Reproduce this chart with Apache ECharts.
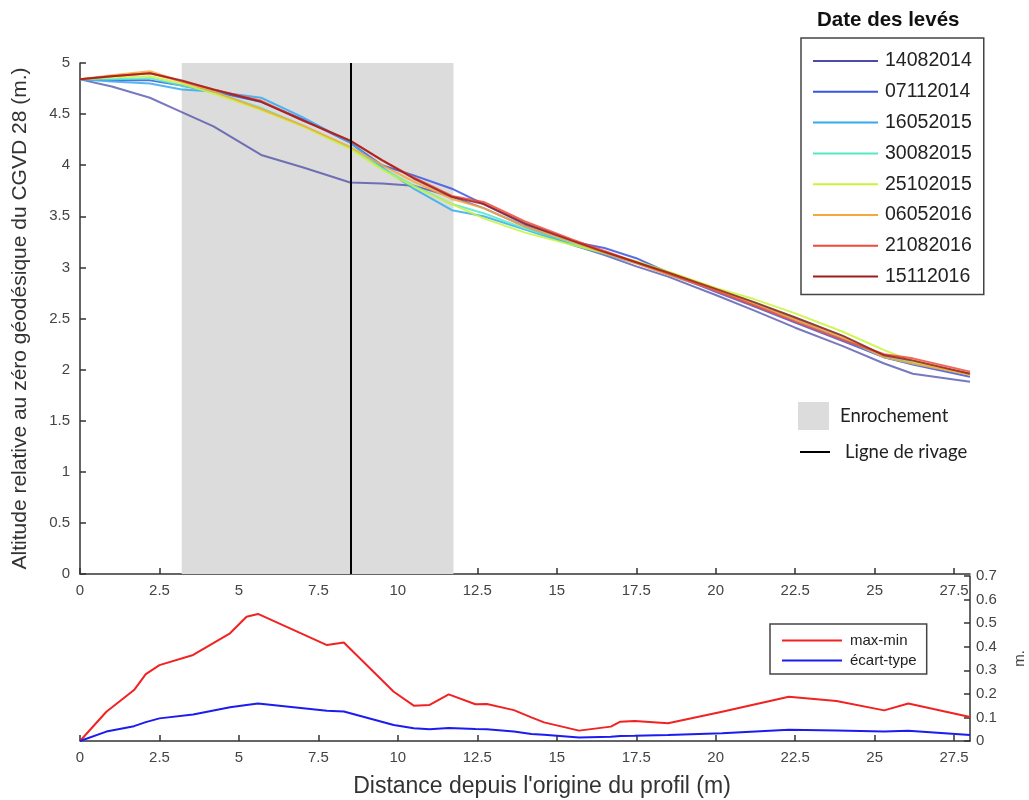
<!DOCTYPE html>
<html><head><meta charset="utf-8">
<script src="https://cdn.jsdelivr.net/npm/echarts@6/dist/echarts.min.js"></script>
<style>html,body{margin:0;padding:0;background:#fff}#c{width:1029px;height:800px}</style>
</head><body><div id="c"></div><script>
// ---------- DATA ----------
const distances = [0, 1, 2.2, 3.2, 4.2, 5.7, 7, 8.5, 9.5, 10.5, 11.7, 12.7, 14, 15.5, 16.5, 17.5, 18.5, 20, 21.2, 22.5, 24, 25.3, 26.2, 28];
const surveyNames = ['14082014', '07112014', '16052015', '30082015', '25102015', '06052016', '21082016', '15112016'];
const s14082014 = [4.84, 4.77, 4.66, 4.52, 4.38, 4.10, 3.98, 3.83, 3.82, 3.80, 3.69, 3.58, 3.40, 3.22, 3.12, 3.01, 2.91, 2.73, 2.58, 2.41, 2.23, 2.06, 1.96, 1.88];
const s07112014 = [4.84, 4.83, 4.83, 4.78, 4.72, 4.62, 4.45, 4.22, 4.00, 3.90, 3.77, 3.62, 3.42, 3.25, 3.19, 3.09, 2.95, 2.76, 2.62, 2.46, 2.28, 2.12, 2.05, 1.93];
const s16052015 = [4.84, 4.82, 4.80, 4.74, 4.72, 4.66, 4.47, 4.22, 3.98, 3.77, 3.56, 3.50, 3.37, 3.22, 3.13, 3.04, 2.93, 2.77, 2.64, 2.49, 2.30, 2.12, 2.06, 1.96];
const s30082015 = [4.84, 4.84, 4.85, 4.78, 4.72, 4.56, 4.39, 4.17, 3.97, 3.80, 3.62, 3.53, 3.38, 3.24, 3.14, 3.05, 2.95, 2.79, 2.66, 2.51, 2.33, 2.14, 2.07, 1.96];
const s25102015 = [4.84, 4.86, 4.87, 4.80, 4.70, 4.54, 4.38, 4.16, 3.96, 3.79, 3.62, 3.48, 3.34, 3.22, 3.14, 3.06, 2.96, 2.80, 2.69, 2.55, 2.37, 2.19, 2.08, 1.95];
const s06052016 = [4.84, 4.88, 4.92, 4.82, 4.72, 4.55, 4.39, 4.18, 4.00, 3.84, 3.67, 3.58, 3.40, 3.25, 3.14, 3.04, 2.93, 2.78, 2.64, 2.49, 2.31, 2.12, 2.06, 1.95];
const s21082016 = [4.84, 4.87, 4.90, 4.82, 4.74, 4.63, 4.44, 4.24, 4.05, 3.88, 3.70, 3.64, 3.45, 3.27, 3.16, 3.05, 2.94, 2.77, 2.63, 2.47, 2.29, 2.15, 2.11, 1.98];
const s15112016 = [4.84, 4.87, 4.90, 4.83, 4.74, 4.62, 4.44, 4.24, 4.05, 3.87, 3.69, 3.62, 3.43, 3.26, 3.15, 3.05, 2.95, 2.79, 2.66, 2.51, 2.33, 2.14, 2.09, 1.96];
const surveyValues = [s14082014, s07112014, s16052015, s30082015, s25102015, s06052016, s21082016, s15112016];

const statDistances = [0, 0.83, 1.7, 2.07, 2.5, 3.56, 4.72, 5.24, 5.6, 7.77, 8.3, 9.87, 10.5, 11.0, 11.6, 12.44, 12.8, 13.65, 14.2, 14.6, 15.7, 16.7, 17.0, 17.45, 18.5, 20.2, 22.3, 23.8, 25.3, 26.06, 28];
const maxMin = [0, 0.124, 0.216, 0.284, 0.322, 0.365, 0.457, 0.527, 0.539, 0.407, 0.418, 0.209, 0.150, 0.153, 0.198, 0.156, 0.157, 0.131, 0.100, 0.079, 0.044, 0.061, 0.082, 0.085, 0.075, 0.124, 0.188, 0.170, 0.130, 0.159, 0.102];
const ecartType = [0, 0.040, 0.063, 0.080, 0.096, 0.112, 0.143, 0.153, 0.159, 0.128, 0.125, 0.068, 0.054, 0.050, 0.055, 0.051, 0.050, 0.040, 0.030, 0.026, 0.015, 0.018, 0.021, 0.022, 0.025, 0.033, 0.048, 0.045, 0.040, 0.043, 0.025];

const xTicks = [0, 2.5, 5, 7.5, 10, 12.5, 15, 17.5, 20, 22.5, 25, 27.5];
const enrochement = [3.2, 11.75];
const ligneRivage = 8.52;

// ---------- STYLE ----------
const colors = ['#4b4ba8', '#3a55e0', '#35aaf0', '#55e8c8', '#c8f53a', '#f8a838', '#f04a3a', '#a01c1c'];
const FONT = 'Liberation Sans, Arial, sans-serif';
const axisCol = '#333';
const labelCol = '#444';

const chart = echarts.init(document.getElementById('c'), null, {renderer: 'canvas'});

const surveySeries = surveyNames.map((n, i) => ({
  name: n, type: 'line', xAxisIndex: 0, yAxisIndex: 0,
  data: distances.map((d, j) => [d, surveyValues[i][j]]),
  symbol: 'none', z: 3,
  lineStyle: {color: colors[i], width: 2, opacity: i === 0 ? 0.75 : 0.85},
  itemStyle: {color: colors[i]}
}));

const xAxisBase = (grid) => ({
  gridIndex: grid, type: 'value', min: 0, max: 28, interval: 2.5,
  axisLine: {show: true, onZero: false, lineStyle: {color: axisCol, width: 1.5}},
  axisTick: {show: true, inside: true, length: 6, customValues: xTicks, lineStyle: {color: axisCol, width: 1.5}},
  axisLabel: {customValues: xTicks, margin: 9, fontSize: 15, color: labelCol, fontFamily: FONT},
  splitLine: {show: false}
});

const option = {
  animation: false,
  backgroundColor: '#fff',
  grid: [
    {left: 80, top: 63, width: 890, height: 511, containLabel: false, outerBoundsMode: 'none'},
    {left: 80, top: 576, width: 890, height: 165, containLabel: false, outerBoundsMode: 'none'}
  ],
  xAxis: [
    xAxisBase(0),
    Object.assign(xAxisBase(1), {
      name: "Distance depuis l'origine du profil (m)", nameLocation: 'middle', nameGap: 34,
      nameTextStyle: {fontSize: 23, color: '#333', fontFamily: FONT, padding: [0, 0, 0, 34]}
    })
  ],
  yAxis: [
    {
      gridIndex: 0, type: 'value', min: 0, max: 5, interval: 0.5,
      name: 'Altitude relative au zéro géodésique du CGVD 28 (m.)', nameLocation: 'middle', nameGap: 49, nameRotate: 90,
      nameTextStyle: {fontSize: 21, color: '#333', fontFamily: FONT},
      axisLine: {show: true, onZero: false, lineStyle: {color: axisCol, width: 1.5}},
      axisTick: {show: true, inside: true, length: 6, lineStyle: {color: axisCol, width: 1.5}},
      axisLabel: {margin: 10, fontSize: 15, color: labelCol, fontFamily: FONT},
      splitLine: {show: false}
    },
    {
      gridIndex: 1, type: 'value', position: 'right', min: 0, max: 0.7, interval: 0.1,
      name: 'm.', nameLocation: 'middle', nameGap: 42, nameRotate: 90,
      nameTextStyle: {fontSize: 15, color: '#444', fontFamily: FONT},
      axisLine: {show: true, onZero: false, lineStyle: {color: axisCol, width: 1.5}},
      axisTick: {show: true, inside: true, length: 6, lineStyle: {color: axisCol, width: 1.5}},
      axisLabel: {margin: 6, fontSize: 15, color: labelCol, fontFamily: FONT},
      splitLine: {show: false}
    }
  ],
  legend: [
    {
      data: surveyNames, orient: 'vertical', left: 801, top: 38, icon: 'rect',
      padding: [13, 12, 8, 12], itemWidth: 65, itemHeight: 2, itemGap: 10.8,
      textStyle: {fontSize: 19.5, color: '#222', fontFamily: FONT, lineHeight: 18, padding: [0, 0, 0, 2]},
      borderColor: '#444', borderWidth: 1.5, backgroundColor: '#fff', selectedMode: false
    },
    {
      data: ['max-min', 'écart-type'], orient: 'vertical', left: 770, top: 624, icon: 'rect',
      padding: [9, 10, 6, 12], itemWidth: 60, itemHeight: 2, itemGap: 5,
      textStyle: {fontSize: 15, color: '#222', fontFamily: FONT, lineHeight: 15, padding: [0, 0, 0, 3]},
      borderColor: '#444', borderWidth: 1.5, backgroundColor: '#fff', selectedMode: false
    }
  ],
  graphic: [
    {type: 'text', left: 817, top: 10, style: {text: 'Date des levés', font: 'bold 20.5px ' + FONT, fill: '#111'}},
    {type: 'rect', shape: {x: 798, y: 402, width: 31, height: 28}, style: {fill: '#dcdcdc'}},
    {type: 'text', style: {text: 'Enrochement', x: 840, y: 416, textVerticalAlign: 'middle', font: '18.5px Lato, sans-serif', fill: '#222'}},
    {type: 'line', shape: {x1: 800, y1: 452, x2: 830, y2: 452}, style: {stroke: '#000', lineWidth: 2}},
    {type: 'text', style: {text: 'Ligne de rivage', x: 845, y: 452, textVerticalAlign: 'middle', font: '18.5px Lato, sans-serif', fill: '#222'}}
  ],
  series: [
    {
      name: 'zones', type: 'line', xAxisIndex: 0, yAxisIndex: 0, data: [], z: 1, symbol: 'none',
      markArea: {silent: true, itemStyle: {color: '#dcdcdc'}, label: {show: false},
        data: [[{xAxis: enrochement[0]}, {xAxis: enrochement[1]}]]},
      markLine: {silent: true, symbol: 'none', label: {show: false}, lineStyle: {color: '#000', width: 2, type: 'solid'},
        data: [{xAxis: ligneRivage}]}
    },
    ...surveySeries,
    {
      name: 'max-min', type: 'line', xAxisIndex: 1, yAxisIndex: 1, symbol: 'none',
      data: statDistances.map((d, j) => [d, maxMin[j]]),
      lineStyle: {color: '#f22222', width: 2}, itemStyle: {color: '#f22222'}
    },
    {
      name: 'écart-type', type: 'line', xAxisIndex: 1, yAxisIndex: 1, symbol: 'none',
      data: statDistances.map((d, j) => [d, ecartType[j]]),
      lineStyle: {color: '#1c1cf0', width: 2}, itemStyle: {color: '#1c1cf0'}
    }
  ]
};
chart.setOption(option);
</script></body></html>
